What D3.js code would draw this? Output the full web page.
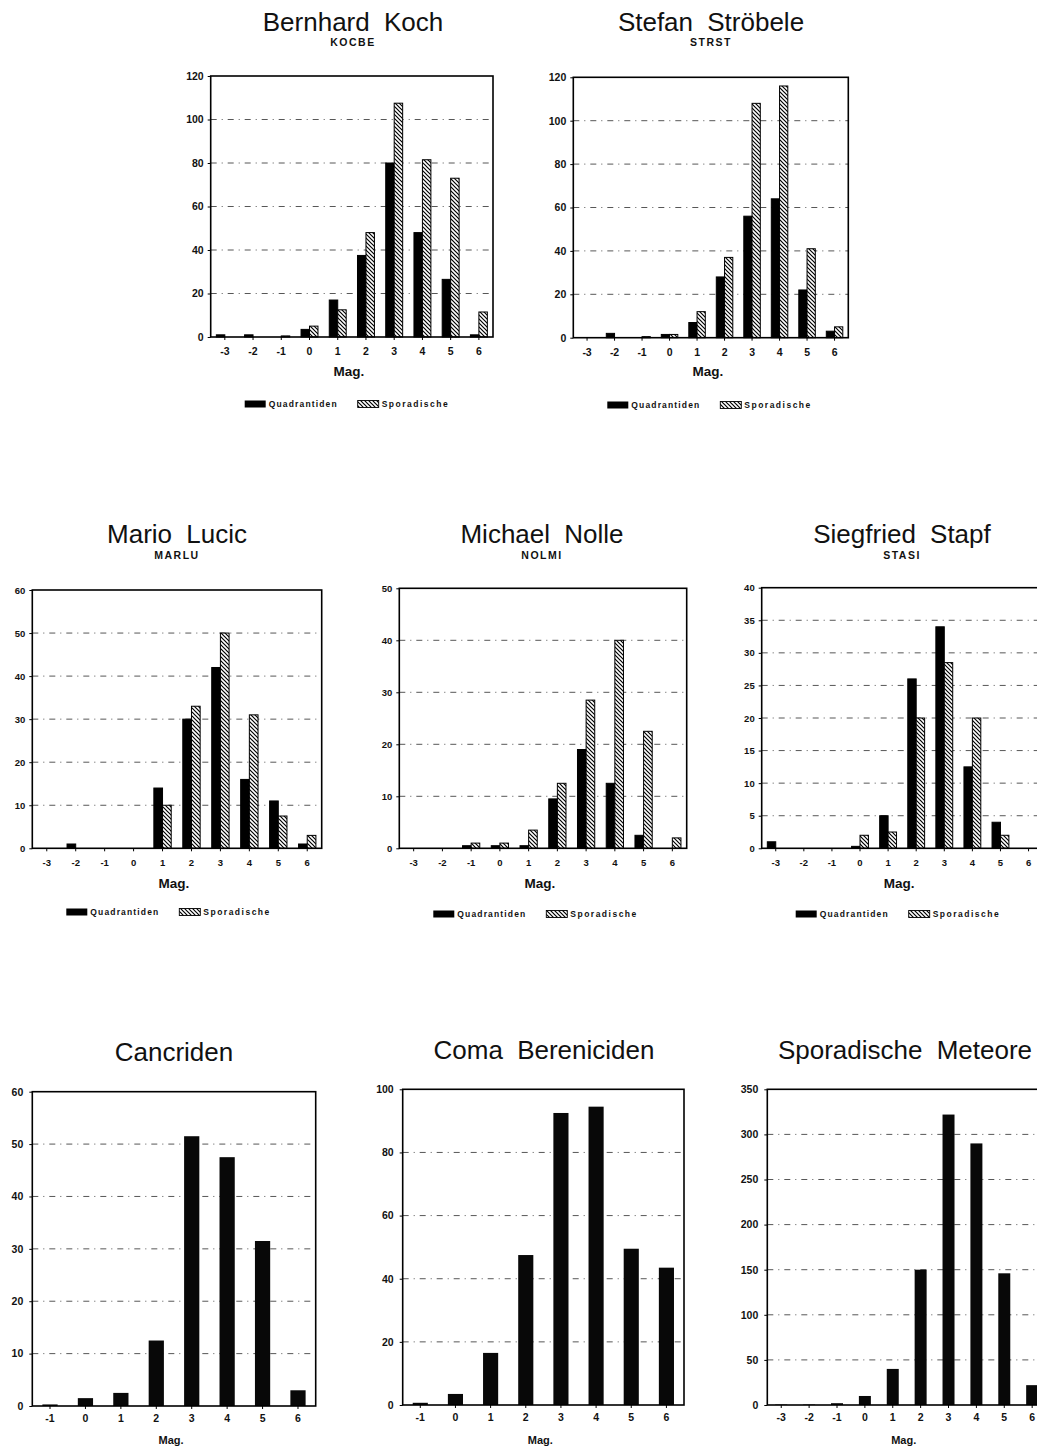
<!DOCTYPE html>
<html><head><meta charset="utf-8">
<script src="https://cdn.jsdelivr.net/npm/d3@7"></script>
<style>
body{margin:0;background:#fff}
svg{display:block}
text{font-family:"Liberation Sans",Arial,Helvetica,sans-serif;fill:#111}
</style>
</head><body>
<svg id="c" width="1037" height="1446"></svg>
<script>
// ---------- data ----------
const magsFull  = [-3, -2, -1, 0, 1, 2, 3, 4, 5, 6];
const magsShort = [-1, 0, 1, 2, 3, 4, 5, 6];
const seriesNames = ["Quadrantiden", "Sporadische"];

const kochQuad  = [1, 1, 0, 3.5, 17, 37.5, 80, 48, 26.5, 1];
const kochSpor  = [0, 0, 0.5, 5, 12.5, 48, 107.5, 81.5, 73, 11.5];
const stroQuad  = [0, 2, 0, 1.5, 7, 28, 56, 64, 22, 3];
const stroSpor  = [0, 0, 0.5, 1.5, 12, 37, 108, 116, 41, 5];
const marluQuad = [0, 1, 0, 0, 14, 30, 42, 16, 11, 1];
const marluSpor = [0, 0, 0, 0, 10, 33, 50, 31, 7.5, 3];
const nolmiQuad = [0, 0, 0.5, 0.5, 0.5, 9.5, 19, 12.5, 2.5, 0];
const nolmiSpor = [0, 0, 1, 1, 3.5, 12.5, 28.5, 40, 22.5, 2];
const stasiQuad = [1, 0, 0, 0.3, 5, 26, 34, 12.5, 4, 0];
const stasiSpor = [0, 0, 0, 2, 2.5, 20, 28.5, 20, 2, 0];
const cancriden = [0.3, 1.5, 2.5, 12.5, 51.5, 47.5, 31.5, 3];
const comaBer   = [0.7, 3.5, 16.5, 47.5, 92.5, 94.5, 49.5, 43.5];
const sporMet   = [0.5, 0.5, 2, 10, 40, 150, 322, 290, 146, 22];

const titles    = ["Bernhard Koch", "Stefan Ströbele", "Mario Lucic", "Michael Nolle", "Siegfried Stapf",
                   "Cancriden", "Coma Bereniciden", "Sporadische Meteore"];
const codes     = ["KOCBE", "STRST", "MARLU", "NOLMI", "STASI", null, null, null];
const yMaxes    = [120, 120, 60, 50, 40, 60, 100, 350];
const ySteps    = [20, 20, 10, 10, 5, 10, 20, 50];
const xTitle    = "Mag.";

// ---------- layout ----------
const charts = [
  {title:titles[0], code:codes[0], cats:magsFull, series:[kochQuad, kochSpor], ymax:yMaxes[0], step:ySteps[0],
   L:210.7, R:493, T:76, B:337, tx:353, ty:31, sy:46, my:376, ly:404, row:"top"},
  {title:titles[1], code:codes[1], cats:magsFull, series:[stroQuad, stroSpor], ymax:yMaxes[1], step:ySteps[1],
   L:573.3, R:848.3, T:77.3, B:337.7, tx:711, ty:31, sy:46, my:376, ly:405, row:"top"},
  {title:titles[2], code:codes[2], cats:magsFull, series:[marluQuad, marluSpor], ymax:yMaxes[2], step:ySteps[2],
   L:32.3, R:321.7, T:590, B:848.3, tx:177, ty:543, sy:559, my:888, ly:912, row:"mid"},
  {title:titles[3], code:codes[3], cats:magsFull, series:[nolmiQuad, nolmiSpor], ymax:yMaxes[3], step:ySteps[3],
   L:399.3, R:686.7, T:588.3, B:848.3, tx:542, ty:543, sy:559, my:888, ly:914, row:"mid"},
  {title:titles[4], code:codes[4], cats:magsFull, series:[stasiQuad, stasiSpor], ymax:yMaxes[4], step:ySteps[4],
   L:761.7, R:1042.6, T:587.7, B:848.3, tx:902, ty:543, sy:559, my:888, ly:914, row:"mid"},
  {title:titles[5], code:codes[5], cats:magsShort, series:[cancriden], ymax:yMaxes[5], step:ySteps[5],
   L:32.3, R:315.7, T:1091.7, B:1406, tx:174, ty:1061, my:1444, row:"bot"},
  {title:titles[6], code:codes[6], cats:magsShort, series:[comaBer], ymax:yMaxes[6], step:ySteps[6],
   L:402.7, R:684, T:1089.3, B:1405, tx:544, ty:1059, my:1444, row:"bot"},
  {title:titles[7], code:codes[7], cats:magsFull, series:[sporMet], ymax:yMaxes[7], step:ySteps[7],
   L:767.3, R:1046.1, T:1089.3, B:1405, tx:905, ty:1059, my:1444, row:"bot"}
];

const svg = d3.select("#c");
svg.append("rect").attr("width",1037).attr("height",1446).attr("fill","#fff");
const defs = svg.append("defs");
const pat = defs.append("pattern").attr("id","hatch").attr("patternUnits","userSpaceOnUse")
  .attr("width",4).attr("height",4);
pat.append("rect").attr("width",4).attr("height",4).attr("fill","#fff");
pat.append("path").attr("d","M-1,-1 L5,5 M3,-1 L5,1 M-1,3 L1,5")
  .attr("stroke","#000").attr("stroke-width",1.2);

function drawChart(c){
  const g = svg.append("g");
  const x = d3.scaleBand().domain(c.cats).range([c.L, c.R]).padding(0);
  const y = d3.scaleLinear().domain([0, c.ymax]).range([c.B, c.T]);
  const ticks = d3.range(0, c.ymax + c.step/2, c.step);

  // grid lines
  g.append("g").selectAll("line").data(ticks.filter(t => t > 0 && t < c.ymax)).join("line")
    .attr("x1", c.L).attr("x2", c.R).attr("y1", d => y(d)).attr("y2", d => y(d))
    .attr("stroke","#444").attr("stroke-width",0.9).attr("stroke-dasharray","6,5,1,5");

  // bars
  const bw = x.bandwidth();
  if (c.series.length === 2) {
    const w = bw * 0.3;
    c.series.forEach((vals, si) => {
      g.append("g").selectAll("rect").data(c.cats.map((m,i)=>({m, v:vals[i]}))).join("rect")
        .attr("x", d => x(d.m) + bw/2 + (si === 0 ? -w : 0))
        .attr("y", d => y(d.v))
        .attr("width", w)
        .attr("height", d => c.B - y(d.v))
        .attr("fill", si === 0 ? "#000" : "url(#hatch)")
        .attr("stroke", "#000").attr("stroke-width", 1);
    });
  } else {
    const w = bw * 0.43;
    g.append("g").selectAll("rect").data(c.cats.map((m,i)=>({m, v:c.series[0][i]}))).join("rect")
      .attr("x", d => x(d.m) + bw/2 - w/2)
      .attr("y", d => y(d.v))
      .attr("width", w)
      .attr("height", d => c.B - y(d.v))
      .attr("fill", "#080808");
  }

  // frame
  g.append("rect").attr("x", c.L).attr("y", c.T).attr("width", c.R - c.L).attr("height", c.B - c.T)
    .attr("fill","none").attr("stroke","#000").attr("stroke-width",1.6);

  const bot = c.row === "bot";
  const fs = c.row === "mid" ? 9.5 : 10.5;
  // y axis
  const ya = g.append("g").attr("transform", `translate(${c.L},0)`)
    .call(d3.axisLeft(y).tickValues(ticks).tickFormat(d3.format("d")).tickSize(3).tickPadding(bot ? 6 : 4));
  ya.select(".domain").remove();
  ya.selectAll("text").attr("font-size", fs).attr("font-weight","bold")
    .style("font-family","'Liberation Sans',Arial,sans-serif");

  // x axis
  const xa = g.append("g").attr("transform", `translate(0,${c.B})`)
    .call(d3.axisBottom(x).tickSize(3).tickPadding(bot ? 6 : 8));
  xa.select(".domain").remove();
  xa.selectAll("text").attr("font-size", fs).attr("font-weight","bold")
    .style("font-family","'Liberation Sans',Arial,sans-serif");

  // titles
  g.append("text").attr("x", c.tx).attr("y", c.ty).attr("text-anchor","middle")
    .attr("font-size", 26).attr("word-spacing", 7).text(c.title);
  if (c.code) {
    g.append("text").attr("x", c.tx).attr("y", c.sy).attr("text-anchor","middle")
      .attr("font-size", 10.5).attr("font-weight","bold").attr("letter-spacing",1.5).text(c.code);
  }
  // x title
  g.append("text").attr("x", (c.L + c.R)/2 - 3).attr("y", c.my).attr("text-anchor","middle")
    .attr("font-size", bot ? 11 : 13.5).attr("font-weight","bold").text(xTitle);

  // legend
  if (c.series.length === 2) {
    const lx = c.L + 34;
    const ly = c.ly;
    const lg = g.append("g");
    lg.append("rect").attr("x", lx).attr("y", ly - 3.5).attr("width", 21).attr("height", 7).attr("fill","#000");
    lg.append("text").attr("x", lx + 24).attr("y", ly + 3).attr("font-size", 8.5).attr("font-weight","bold")
      .attr("textLength", 68).attr("lengthAdjust","spacing").text(seriesNames[0]);
    lg.append("rect").attr("x", lx + 113).attr("y", ly - 3.5).attr("width", 21).attr("height", 7)
      .attr("fill","url(#hatch)").attr("stroke","#000").attr("stroke-width",0.9);
    lg.append("text").attr("x", lx + 137).attr("y", ly + 3).attr("font-size", 8.5).attr("font-weight","bold")
      .attr("textLength", 66).attr("lengthAdjust","spacing").text(seriesNames[1]);
  }
}

charts.forEach(drawChart);
</script>
</body></html>
